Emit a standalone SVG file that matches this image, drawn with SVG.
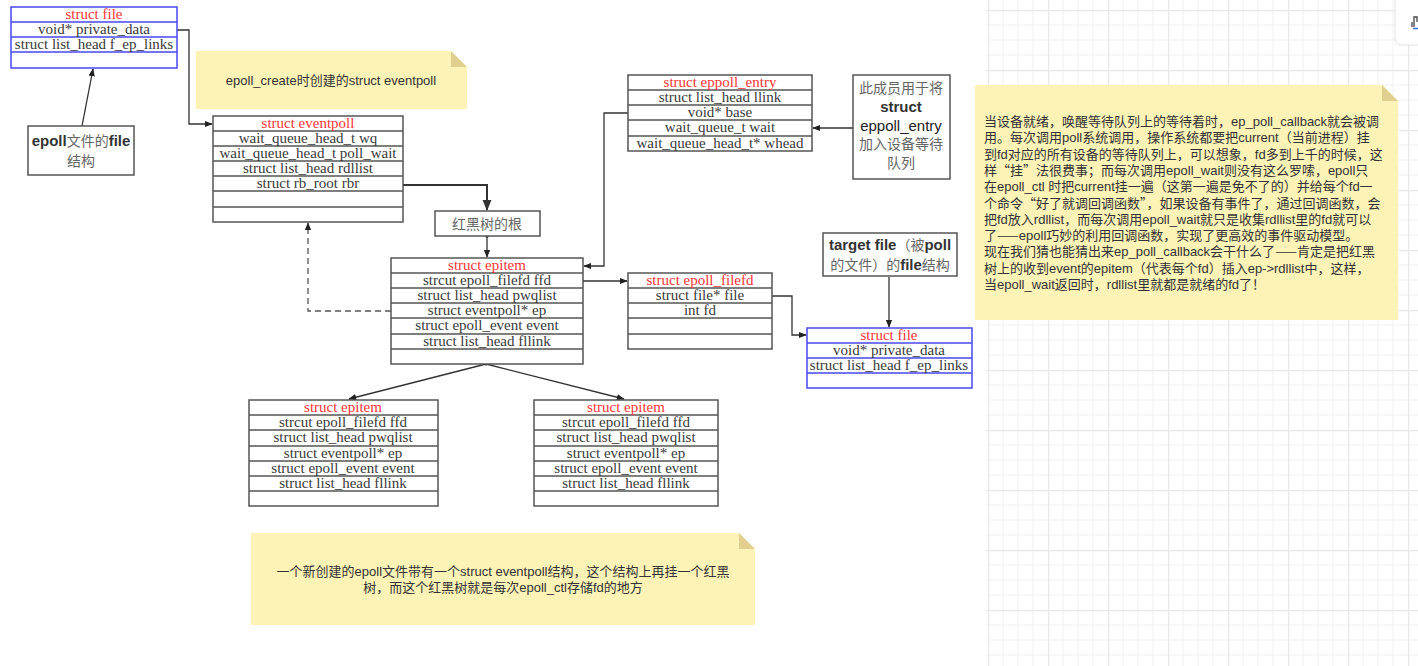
<svg xmlns="http://www.w3.org/2000/svg" width="1418" height="666" viewBox="0 0 1418 666">
<defs>
<pattern id="grid" width="60" height="60" patternUnits="userSpaceOnUse" x="1288" y="10">
<rect width="60" height="60" fill="#ffffff"/>
<path d="M15,0V60M30,0V60M45,0V60M0,15H60M0,30H60M0,45H60" stroke="#f1f1f1" stroke-width="1"/>
<path d="M0.5,0V60M0,0.5H60" stroke="#e8e8e8" stroke-width="1.5"/>
</pattern>
<marker id="ah" viewBox="0 0 10 10" refX="9" refY="5" markerWidth="8" markerHeight="8" markerUnits="userSpaceOnUse" orient="auto">
<path d="M0,1 L10,5 L0,9 Z" fill="#222"/>
</marker>
<marker id="ahb" viewBox="0 0 10 10" refX="9" refY="5" markerWidth="11" markerHeight="11" markerUnits="userSpaceOnUse" orient="auto">
<path d="M0,1 L10,5 L0,9 Z" fill="#333"/>
</marker>
</defs>
<style>
.box{fill:#fff;stroke:#555;stroke-width:1.5}
.bbox{fill:#fff;stroke:#4848f0;stroke-width:1.5}
.rl{stroke:#555;stroke-width:1.5}
.brl{stroke:#4848f0;stroke-width:1.5}
.st{font-family:"Liberation Serif","Noto Sans CJK SC",serif;font-size:15px;fill:#3a3a3a;text-anchor:middle}
.hd{fill:#ff3535}
.note{fill:#fef3b6}
.fold{fill:#e0cf8f}
.nt{font-family:"Liberation Sans","Noto Sans CJK SC",sans-serif;font-size:13px;fill:#333}
.cq{font-family:"Noto Sans CJK SC",sans-serif}
.cj{font-family:"Noto Sans CJK SC",serif;font-size:14px;fill:#666;text-anchor:middle}
.lb{font-family:"Liberation Sans","Noto Sans CJK SC",sans-serif;font-size:15px;fill:#333;font-weight:bold}
.ln{fill:none;stroke:#333;stroke-width:1.3}
</style>
<rect x="0" y="0" width="1418" height="666" fill="url(#grid)"/>
<rect x="0" y="0" width="986" height="666" fill="#ffffff"/>
<g id="panel">
<rect x="1395" y="-10" width="40" height="55" rx="6" fill="#fff" stroke="#e2e2e2"/>
<path d="M1412,22 V27 M1414,27 V17 H1417 V22" fill="none" stroke="#444" stroke-width="1.3"/>
<path d="M1413,28.5 H1418" stroke="#2f6fe0" stroke-width="1.5"/>
</g>

<g id="connectors">
<path class="ln" d="M177,30 H189 V124 H212" marker-end="url(#ah)"/>
<path class="ln" d="M82,126 L93,69" marker-end="url(#ah)"/>
<path d="M360,185 H487 V210" fill="none" stroke="#333" stroke-width="2" marker-end="url(#ahb)"/>
<circle cx="487" cy="236" r="1.8" fill="#222"/>
<path class="ln" d="M487,236 V257" marker-end="url(#ah)"/>
<path d="M391,311 H308 V223" fill="none" stroke="#555" stroke-width="1.3" stroke-dasharray="6,4" marker-end="url(#ah)"/>
<path class="ln" d="M628,113 H604 V266 H584" marker-end="url(#ah)"/>
<path class="ln" d="M853,128 H813" marker-end="url(#ah)"/>
<circle cx="582" cy="281" r="1.8" fill="#222"/>
<path class="ln" d="M582,281 H627" marker-end="url(#ah)"/>
<path class="ln" d="M772,296 H792 V335 H806" marker-end="url(#ah)"/>
<path class="ln" d="M889,277 V327" marker-end="url(#ah)"/>
<circle cx="486" cy="364" r="1.6" fill="#222"/>
<path class="ln" d="M486,364 L349,399" marker-end="url(#ah)"/>
<path class="ln" d="M486,364 L624,399" marker-end="url(#ah)"/>
</g>

<g id="file-epoll">
<rect class="bbox" x="11" y="7" width="166" height="61"/>
<path class="brl" d="M11,22H177M11,37H177M11,52H177"/>
<text class="st hd" x="94" y="19">struct file</text>
<text class="st" x="94" y="34">void* private_data</text>
<text class="st" x="94" y="49">struct list_head f_ep_links</text>
</g>

<g id="epoll-file-label">
<rect x="28" y="126" width="106" height="49" fill="#fff" stroke="#555" stroke-width="1.5"/>
<text x="81" y="146" text-anchor="middle"><tspan class="lb">epoll</tspan><tspan font-family="Noto Sans CJK SC,serif" font-size="14" fill="#666">文件的</tspan><tspan class="lb">file</tspan></text>
<text class="cj" x="81" y="166">结构</text>
</g>

<g id="note-create">
<path class="note" d="M196,51 H451 L467,67 V109 H196 Z"/>
<path class="fold" d="M451,51 L467,67 H451 Z"/>
<text class="nt" x="331" y="85" text-anchor="middle">epoll_create时创建的struct eventpoll</text>
</g>

<g id="eventpoll">
<rect class="box" x="213" y="116" width="190" height="106"/>
<path class="rl" d="M213,131H403M213,146H403M213,161H403M213,176H403M213,191H403M213,207H403"/>
<text class="st hd" x="308" y="128">struct eventpoll</text>
<text class="st" x="308" y="143">wait_queue_head_t wq</text>
<text class="st" x="308" y="158">wait_queue_head_t poll_wait</text>
<text class="st" x="308" y="173">struct list_head rdllist</text>
<text class="st" x="308" y="188">struct rb_root rbr</text>
</g>

<g id="rbroot">
<rect class="box" x="435" y="211" width="105" height="25"/>
<text class="cj" x="487" y="229" font-size="15">红黑树的根</text>
</g>

<g id="eppoll-entry">
<rect class="box" x="628" y="75" width="184" height="76"/>
<path class="rl" d="M628,90H812M628,105H812M628,120H812M628,136H812"/>
<text class="st hd" x="720" y="87">struct eppoll_entry</text>
<text class="st" x="720" y="102">struct list_head llink</text>
<text class="st" x="720" y="117">void* base</text>
<text class="st" x="720" y="132">wait_queue_t wait</text>
<text class="st" x="720" y="148">wait_queue_head_t* whead</text>
</g>

<g id="entry-label">
<rect x="853" y="75" width="97" height="104" fill="#fff" stroke="#555" stroke-width="1.5"/>
<text class="cj" x="901" y="93" font-size="15">此成员用于将</text>
<text class="lb" x="901" y="112" text-anchor="middle">struct</text>
<text x="901" y="131" text-anchor="middle" font-family="Liberation Sans,sans-serif" font-size="15" fill="#222">eppoll_entry</text>
<text class="cj" x="901" y="149" font-size="15">加入设备等待</text>
<text class="cj" x="901" y="168" font-size="15">队列</text>
</g>

<g id="epitem">
<rect class="box" x="391" y="258" width="192" height="106"/>
<path class="rl" d="M391,273H583M391,288H583M391,303H583M391,318H583M391,334H583M391,349H583"/>
<text class="st hd" x="487" y="270">struct epitem</text>
<text class="st" x="487" y="285">strcut epoll_filefd ffd</text>
<text class="st" x="487" y="300">struct list_head pwqlist</text>
<text class="st" x="487" y="315">struct eventpoll* ep</text>
<text class="st" x="487" y="330">struct epoll_event event</text>
<text class="st" x="487" y="346">struct list_head fllink</text>
</g>

<g id="epoll-filefd">
<rect class="box" x="628" y="273" width="144" height="76"/>
<path class="rl" d="M628,288H772M628,303H772M628,318H772M628,334H772"/>
<text class="st hd" x="700" y="285">struct epoll_filefd</text>
<text class="st" x="700" y="300">struct file* file</text>
<text class="st" x="700" y="315">int fd</text>
</g>

<g id="target-label">
<rect x="823" y="233" width="134" height="43" fill="#fff" stroke="#555" stroke-width="1.5"/>
<text x="890" y="250" text-anchor="middle"><tspan class="lb">target file</tspan><tspan font-family="Noto Sans CJK SC,serif" font-size="14" fill="#666">（被</tspan><tspan class="lb">poll</tspan></text>
<text x="890" y="270" text-anchor="middle"><tspan font-family="Noto Sans CJK SC,serif" font-size="14" fill="#666">的文件）的</tspan><tspan class="lb">file</tspan><tspan font-family="Noto Sans CJK SC,serif" font-size="14" fill="#666">结构</tspan></text>
</g>

<g id="file-target">
<rect class="bbox" x="807" y="328" width="165" height="60"/>
<path class="brl" d="M807,343H972M807,358H972M807,373H972"/>
<text class="st hd" x="889" y="340">struct file</text>
<text class="st" x="889" y="355">void* private_data</text>
<text class="st" x="889" y="370">struct list_head f_ep_links</text>
</g>

<g id="epitem-left">
<rect class="box" x="249" y="400" width="189" height="106"/>
<path class="rl" d="M249,415H438M249,430H438M249,446H438M249,461H438M249,476H438M249,491H438"/>
<text class="st hd" x="343" y="412">struct epitem</text>
<text class="st" x="343" y="427">strcut epoll_filefd ffd</text>
<text class="st" x="343" y="442">struct list_head pwqlist</text>
<text class="st" x="343" y="458">struct eventpoll* ep</text>
<text class="st" x="343" y="473">struct epoll_event event</text>
<text class="st" x="343" y="488">struct list_head fllink</text>
</g>

<g id="epitem-right">
<rect class="box" x="534" y="400" width="184" height="106"/>
<path class="rl" d="M534,415H718M534,430H718M534,446H718M534,461H718M534,476H718M534,491H718"/>
<text class="st hd" x="626" y="412">struct epitem</text>
<text class="st" x="626" y="427">strcut epoll_filefd ffd</text>
<text class="st" x="626" y="442">struct list_head pwqlist</text>
<text class="st" x="626" y="458">struct eventpoll* ep</text>
<text class="st" x="626" y="473">struct epoll_event event</text>
<text class="st" x="626" y="488">struct list_head fllink</text>
</g>

<g id="note-bottom">
<path class="note" d="M251,533 H739 L755,549 V625 H251 Z"/>
<path class="fold" d="M739,533 L755,549 H739 Z"/>
<text class="nt" x="503" y="576" text-anchor="middle" font-size="13.2">一个新创建的epoll文件带有一个struct eventpoll结构，这个结构上再挂一个红黑</text>
<text class="nt" x="503" y="592" text-anchor="middle" font-size="13.2">树，而这个红黑树就是每次epoll_ctl存储fd的地方</text>
</g>

<g id="note-right">
<path class="note" d="M975,85 H1382 L1398,101 V320 H975 Z"/>
<path class="fold" d="M1382,85 L1398,101 H1382 Z"/>
<text class="nt">
<tspan x="984" y="126">当设备就绪，唤醒等待队列上的等待着时，ep_poll_callback就会被调</tspan>
<tspan x="984" y="142.3">用。每次调用poll系统调用，操作系统都要把current（当前进程）挂</tspan>
<tspan x="984" y="158.6">到fd对应的所有设备的等待队列上，可以想象，fd多到上千的时候，这</tspan>
<tspan x="984" y="174.9">样<tspan class="cq">“</tspan>挂<tspan class="cq">”</tspan>法很费事；而每次调用epoll_wait则没有这么罗嗦，epoll只</tspan>
<tspan x="984" y="191.2">在epoll_ctl 时把current挂一遍（这第一遍是免不了的）并给每个fd一</tspan>
<tspan x="984" y="207.5">个命令<tspan class="cq">“</tspan>好了就调回调函数<tspan class="cq">”</tspan>，如果设备有事件了，通过回调函数，会</tspan>
<tspan x="984" y="223.8">把fd放入rdllist，而每次调用epoll_wait就只是收集rdllist里的fd就可以</tspan>
<tspan x="984" y="240.1">了<tspan class="cq">——</tspan>epoll巧妙的利用回调函数，实现了更高效的事件驱动模型。</tspan>
<tspan x="984" y="256.4">现在我们猜也能猜出来ep_poll_callback会干什么了<tspan class="cq">——</tspan>肯定是把红黑</tspan>
<tspan x="984" y="272.7">树上的收到event的epitem（代表每个fd）插入ep-&gt;rdllist中，这样，</tspan>
<tspan x="984" y="289">当epoll_wait返回时，rdllist里就都是就绪的fd了！</tspan>
</text>
</g>
</svg>
